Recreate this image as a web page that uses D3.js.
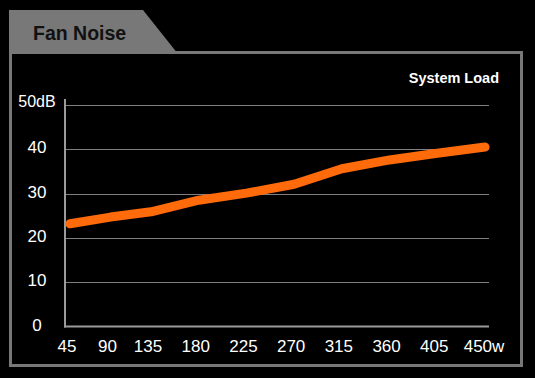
<!DOCTYPE html>
<html>
<head>
<meta charset="utf-8">
<script src="https://cdn.jsdelivr.net/npm/d3@7"></script>
<style>
  html, body { margin: 0; padding: 0; background: #000; }
  svg { display: block; }
</style>
</head>
<body>
<svg id="chart"></svg>
<script>
// data
const loads = [45, 90, 135, 180, 225, 270, 315, 360, 405, 450]
const noise = [23.2, 24.7, 25.9, 28.5, 30.1, 32.1, 35.6, 37.6, 39.1, 40.5]
const yTicks = [0, 10, 20, 30, 40, 50]
const title = 'Fan Noise'
const axisTitle = 'System Load'

const width = 535, height = 378
const gray = '#787878'

const svg = d3.select('#chart')
  .attr('width', width)
  .attr('height', height)

// frame + tab
svg.append('rect')
  .attr('x', 10.5).attr('y', 52.5)
  .attr('width', 511).attr('height', 313)
  .attr('fill', 'none')
  .attr('stroke', gray)
  .attr('stroke-width', 3)

svg.append('path')
  .attr('d', 'M9,10 L143,10 L178,54 L9,54 Z')
  .attr('fill', gray)

svg.append('text')
  .attr('x', 33).attr('y', 39.5)
  .attr('font-family', 'Liberation Sans, Arial, sans-serif')
  .attr('font-weight', 'bold')
  .attr('font-size', 19.5)
  .attr('fill', '#111')
  .text(title)

svg.append('text')
  .attr('x', 499).attr('y', 82.5)
  .attr('text-anchor', 'end')
  .attr('font-family', 'Liberation Sans, Arial, sans-serif')
  .attr('font-weight', 'bold')
  .attr('font-size', 14.5)
  .attr('fill', '#fff')
  .text(axisTitle)

// scales (the x spacing in the original is not quite even)
const x = d3.scaleLinear()
  .domain([45, 135, 450])
  .range([70, 151, 485])

const y = d3.scaleLinear()
  .domain([0, 50])
  .range([326.5, 105])

const plotLeft = 65, plotRight = 489

// gridlines
svg.append('g')
  .selectAll('line')
  .data(yTicks.filter(d => d > 0))
  .join('line')
  .attr('x1', plotLeft).attr('x2', plotRight)
  .attr('y1', d => Math.round(y(d)) + 0.5)
  .attr('y2', d => Math.round(y(d)) + 0.5)
  .attr('stroke', '#808080')
  .attr('stroke-width', 1)

// axes lines
svg.append('line')
  .attr('x1', plotLeft).attr('x2', plotLeft)
  .attr('y1', 99).attr('y2', y(0) + 1)
  .attr('stroke', '#9a9a9a').attr('stroke-width', 2)
svg.append('line')
  .attr('x1', plotLeft - 1).attr('x2', plotRight)
  .attr('y1', y(0)).attr('y2', y(0))
  .attr('stroke', '#9a9a9a').attr('stroke-width', 2)

// y labels
svg.append('g')
  .selectAll('text')
  .data(yTicks)
  .join('text')
  .attr('x', 37)
  .attr('y', d => y(d) + (d === 50 ? 2 : 4))
  .attr('text-anchor', 'middle')
  .attr('font-family', 'Liberation Sans, Arial, sans-serif')
  .attr('font-size', d => d === 50 ? 16 : 17)
  .attr('fill', '#fff')
  .text(d => d === 50 ? '50dB' : d)

// x labels
svg.append('g')
  .selectAll('text')
  .data(loads)
  .join('text')
  .attr('x', d => x(d) - (d === 450 ? 1 : 3))
  .attr('y', 352)
  .attr('text-anchor', 'middle')
  .attr('font-family', 'Liberation Sans, Arial, sans-serif')
  .attr('font-size', 17)
  .attr('fill', '#fff')
  .text(d => d === 450 ? '450w' : d)

// the noise line
const line = d3.line()
  .x((d, i) => x(loads[i]))
  .y(d => y(d))

svg.append('path')
  .datum(noise)
  .attr('d', line)
  .attr('fill', 'none')
  .attr('stroke', '#ff6a0a')
  .attr('stroke-width', 9)
  .attr('stroke-linecap', 'round')
  .attr('stroke-linejoin', 'round')
</script>
</body>
</html>
